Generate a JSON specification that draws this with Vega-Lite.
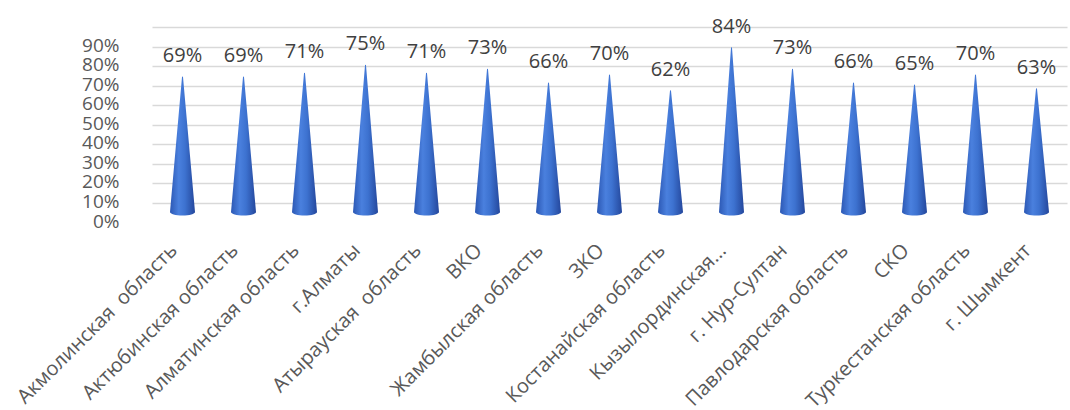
{
  "$schema": "https://vega.github.io/schema/vega-lite/v6.json",
  "autosize": {"type": "none"},
  "padding": {"left": 152, "top": 36, "right": 3, "bottom": 198},
  "width": 915,
  "height": 176,
  "background": "white",
  "config": {
    "view": {"stroke": null},
    "font": "Open Sans",
    "axisY": {
      "title": null,
      "format": ".0%",
      "domain": false,
      "ticks": false,
      "labelPadding": 33,
      "labelFontSize": 19,
      "labelColor": "#595959",
      "labelOverlap": false,
      "labelBaseline": "middle",
      "gridColor": "#d9d9d9",
      "gridWidth": 1.5,
      "tickOffset": -9,
      "labelOffset": 18
    }
  },
  "data": {
    "values": [
      {"region": "Акмолинская\u00a0 область", "value": 0.69, "base": 0},
      {"region": "Актюбинская область", "value": 0.69, "base": 0},
      {"region": "Алматинская область", "value": 0.71, "base": 0},
      {"region": "г.Алматы", "value": 0.75, "base": 0},
      {"region": "Атырауская\u00a0 область", "value": 0.71, "base": 0},
      {"region": "ВКО", "value": 0.73, "base": 0},
      {"region": "Жамбылская область", "value": 0.66, "base": 0},
      {"region": "ЗКО", "value": 0.70, "base": 0},
      {"region": "Костанайская область", "value": 0.62, "base": 0},
      {"region": "Кызылординская...", "value": 0.84, "base": 0},
      {"region": "г. Нур-Султан", "value": 0.73, "base": 0},
      {"region": "Павлодарская область", "value": 0.66, "base": 0},
      {"region": "СКО", "value": 0.65, "base": 0},
      {"region": "Туркестанская область", "value": 0.70, "base": 0},
      {"region": "г. Шымкент", "value": 0.63, "base": 0}
    ]
  },
  "encoding": {
    "x": {
      "field": "region",
      "type": "nominal",
      "sort": null,
      "scale": {"paddingInner": 0, "paddingOuter": 0},
      "axis": {
        "title": null,
        "domain": false,
        "ticks": false,
        "grid": false,
        "labelAngle": -45,
        "labelAlign": "right",
        "labelBaseline": "middle",
        "labelPadding": 35,
        "labelOffset": -9,
        "labelFontSize": 20,
        "labelColor": "#595959",
        "labelLimit": 400
      }
    }
  },
  "layer": [
    {
      "transform": [{"fold": ["base", "value"], "as": ["part", "y"]}],
      "mark": {
        "type": "trail",
        "clip": true,
        "color": {
          "gradient": "linear",
          "x1": 0, "x2": 1, "y1": 0, "y2": 0,
          "stops": [
            {"offset": 0, "color": "#2c58b4"},
            {"offset": 0.35, "color": "#4a80de"},
            {"offset": 0.6, "color": "#3d72d0"},
            {"offset": 1, "color": "#24479c"}
          ]
        }
      },
      "encoding": {
        "y": {
          "field": "y",
          "type": "quantitative",
          "scale": {"domain": [0, 0.9]},
          "axis": {"values": [0, 0.1, 0.2, 0.3, 0.4, 0.5, 0.6, 0.7, 0.8, 0.9], "labelOverlap": false, "labelFontSize": 19}
        },
        "size": {"condition": {"test": "datum.part === 'base'", "value": 25}, "value": 0},
        "detail": {"field": "region"},
        "order": {"field": "y"}
      }
    },
    {
      "mark": {
        "type": "point",
        "shape": "M-1,0 A1,0.28 0 0,0 1,0 Z",
        "filled": true,
        "opacity": 1,
        "size": 625,
        "color": {
          "gradient": "linear",
          "x1": 0, "x2": 1, "y1": 0, "y2": 0,
          "stops": [
            {"offset": 0, "color": "#2c58b4"},
            {"offset": 0.35, "color": "#4a80de"},
            {"offset": 0.6, "color": "#3d72d0"},
            {"offset": 1, "color": "#24479c"}
          ]
        }
      },
      "encoding": {
        "y": {
          "field": "base",
          "type": "quantitative",
          "axis": {"values": [0, 0.1, 0.2, 0.3, 0.4, 0.5, 0.6, 0.7, 0.8, 0.9], "labelOverlap": false, "labelFontSize": 19}
        }
      }
    },
    {
      "mark": {"type": "text", "dy": -15, "baseline": "alphabetic", "fontSize": 20, "color": "#404040"},
      "encoding": {
        "y": {
          "field": "value",
          "type": "quantitative",
          "axis": {"values": [0, 0.1, 0.2, 0.3, 0.4, 0.5, 0.6, 0.7, 0.8, 0.9], "labelOverlap": false, "labelFontSize": 19}
        },
        "text": {"field": "value", "type": "quantitative", "format": ".0%"}
      }
    }
  ]
}
